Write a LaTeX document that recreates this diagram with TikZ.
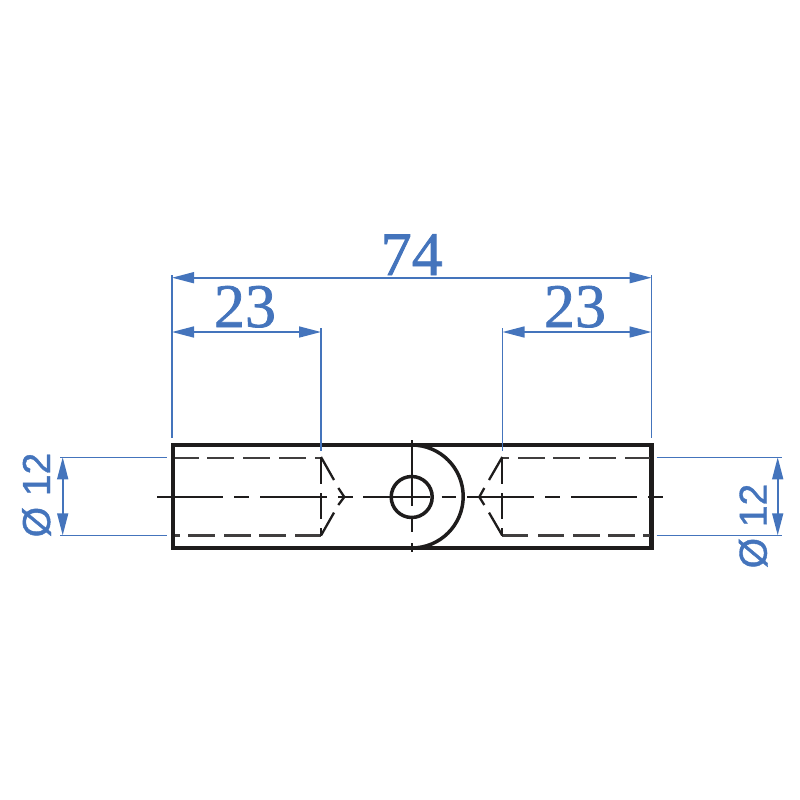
\documentclass[tikz,border=0pt]{standalone}
\usepackage{fontspec}
\setmainfont{Liberation Serif}[FakeBold=1.2]
\newfontfamily\dimsans{Liberation Sans}[FakeBold=1]
\usetikzlibrary{arrows.meta}
\definecolor{dimblue}{HTML}{4474BC}
\definecolor{inkblack}{HTML}{1E1C1C}
\tikzset{
  outline/.style={draw=inkblack,line width=4.3pt,line join=miter},
  hidden/.style={draw=inkblack!85!white,line width=2.4pt},
  hiddenv/.style={draw=inkblack,line width=2.3pt},
  centreline/.style={draw=inkblack,line width=2.2pt},
  extline/.style={draw=dimblue,line width=1.5pt},
  dimline/.style={draw=dimblue,line width=1.6pt,
    {Triangle[length=22pt,width=11pt,color=dimblue]}-{Triangle[length=22pt,width=11pt,color=dimblue]}},
  serifdim/.style={text=dimblue,inner sep=0pt,anchor=base,font=\fontsize{62}{62}\selectfont},
  sansdim/.style={text=dimblue,inner sep=0pt,anchor=base,rotate=90,font=\dimsans\fontsize{39}{39}\selectfont},
}
\begin{document}
\begin{tikzpicture}[x=1pt,y=-1pt]
\useasboundingbox (0,0) rectangle (800,800);
% body
\draw[outline] (173,445) rectangle (651.5,548);
\draw[outline,line width=3.5pt] (411.7,445) arc[start angle=-90,end angle=90,radius=51.5];
\draw[outline,line width=3.5pt] (411.7,497) circle[radius=20.5];
% centre lines
\foreach \a/\b in {157/222.7,234/249.3,260/326.7,338/352.7,363/430,441.7/456,467/534,545/560,571/637,648/663}
  \draw[centreline] (\a,496.7) -- (\b,496.7);
\foreach \a/\b in {440/506,518/532,543/552}
  \draw[centreline,line width=2.4pt] (411.7,\a) -- (411.7,\b);
% hidden lines, left
\foreach \a/\b in {175/199,207/234.3,243/270,279/305.7,315/321}
  \draw[hidden] (\a,457.7) -- (\b,457.7);
\foreach \a/\b in {175/180,188/215,224/250.7,259/286,295/321}
  \draw[hidden] (\a,535.3) -- (\b,535.3);
\foreach \a/\b in {457/484,493/519,528/535.5}
  \draw[hiddenv] (321,\a) -- (321,\b);
\draw[hiddenv] (321,457) -- (334,480);
\draw[hiddenv] (321,535.5) -- (334,512.6);
\draw[hiddenv] (338.3,488) -- (344.3,497) -- (338.3,505);
% hidden lines, right
\foreach \a/\b in {502/509,518.3/545,553/580,589/616,625/650}
  \draw[hidden] (\a,457.7) -- (\b,457.7);
\foreach \a/\b in {502/528,538/564,573/600,608/635,643/650}
  \draw[hidden] (\a,535.3) -- (\b,535.3);
\foreach \a/\b in {457/484,493/519,528/535.5}
  \draw[hiddenv] (502.3,\a) -- (502.3,\b);
\draw[hiddenv] (502.3,457) -- (489,480);
\draw[hiddenv] (502.3,535.5) -- (489,512.6);
\draw[hiddenv] (484.3,488) -- (479.3,497) -- (484.3,505);
% extension lines
\draw[extline] (172,275) -- (172,438);
\draw[extline] (321,328) -- (321,451);
\draw[extline] (502.5,328) -- (502.5,451);
\draw[extline] (651.5,275) -- (651.5,438);
\draw[extline] (60,457.3) -- (166.7,457.3);
\draw[extline] (60,535.3) -- (166.7,535.3);
\draw[extline] (656.7,457.3) -- (781.7,457.3);
\draw[extline] (656.7,535.3) -- (781.7,535.3);
% dimensions
\coordinate (o1) at (172,277.7); \coordinate (o2) at (651.5,277.7);
\coordinate (l1) at (172,332); \coordinate (l2) at (321,332);
\coordinate (r1) at (502.5,332); \coordinate (r2) at (651.5,332);
\coordinate (a1) at (62.7,457.3); \coordinate (a2) at (62.7,535.3);
\coordinate (b1) at (777.7,457.3); \coordinate (b2) at (777.7,535.3);
\draw[dimline] (o1) -- (o2);
\draw[dimline] (l1) -- (l2);
\draw[dimline] (r1) -- (r2);
\draw[dimline] (a1) -- (a2);
\draw[dimline] (b1) -- (b2);
\node[serifdim] (t74) at (411.7,275) {74};
\node[serifdim] (t23l) at (245,327) {23};
\node[serifdim] (t23r) at (575,327) {23};
\node[sansdim] (dl) at (50,495) {Ø 12};
\node[sansdim] (dr) at (766.7,526) {Ø 12};
\end{tikzpicture}
\end{document}
